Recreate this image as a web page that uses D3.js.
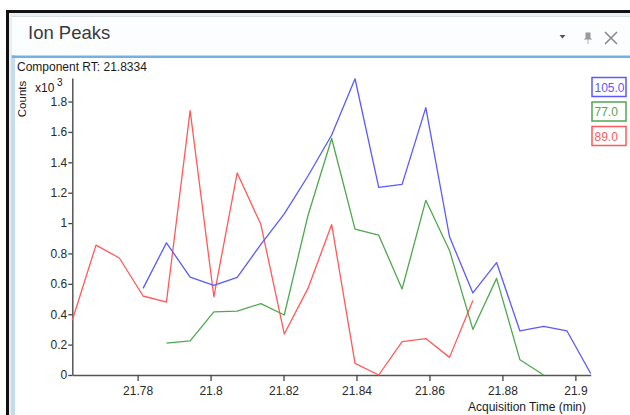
<!DOCTYPE html>
<html>
<head>
<meta charset="utf-8">
<script src="https://cdn.jsdelivr.net/npm/d3@7"></script>
<style>
  html, body { margin: 0; padding: 0; background: #ffffff; }
  svg { display: block; }
  text { font-family: "Liberation Sans", Arial, sans-serif; }
</style>
</head>
<body>
<svg id="chart" width="630" height="415"></svg>
<script>
// ---- data ----
const times = [21.7621, 21.7686, 21.7750, 21.7815, 21.7879, 21.7944, 21.8009, 21.8073,
               21.8138, 21.8202, 21.8267, 21.8332, 21.8396, 21.8461, 21.8525, 21.8590,
               21.8655, 21.8719, 21.8784, 21.8848, 21.8913, 21.8977, 21.9042];
const seriesNames = ["105.0", "77.0", "89.0"];
const seriesColors = ["#5a5aff", "#4fa84f", "#ff5a5a"];
const ion105 = [null, null, null, 0.57, 0.87, 0.645, 0.59, 0.643, 0.86, 1.06, 1.31, 1.58,
                1.95, 1.235, 1.255, 1.76, 0.91, 0.54, 0.74, 0.29, 0.32, 0.29, 0.01];
const ion77  = [null, null, null, null, 0.21, 0.225, 0.415, 0.42, 0.47, 0.395, 1.05, 1.557,
                0.96, 0.92, 0.566, 1.15, 0.82, 0.30, 0.636, 0.10, 0.0, null, null];
const ion89  = [0.36, 0.855, 0.77, 0.52, 0.48, 1.74, 0.515, 1.33, 0.99, 0.27, 0.57, 0.99,
                0.077, 0.0, 0.22, 0.24, 0.116, 0.49, null, null, null, null, null];
const xTicks = [21.78, 21.80, 21.82, 21.84, 21.86, 21.88, 21.90];
const xTickLabels = ["21.78", "21.8", "21.82", "21.84", "21.86", "21.88", "21.9"];
const yTicks = [0, 0.2, 0.4, 0.6, 0.8, 1.0, 1.2, 1.4, 1.6, 1.8];
const yTickLabels = ["0", "0.2", "0.4", "0.6", "0.8", "1", "1.2", "1.4", "1.6", "1.8"];
const allSeries = [ion105, ion77, ion89];

// ---- drawing ----
const svg = d3.select("#chart");

// window frame
svg.append("rect").attr("x", 0).attr("y", 0).attr("width", 630).attr("height", 415).attr("fill", "#ffffff");
svg.append("rect").attr("x", 6).attr("y", 10).attr("width", 624).attr("height", 405).attr("fill", "#111111");
svg.append("rect").attr("x", 9).attr("y", 13).attr("width", 621).attr("height", 402).attr("fill", "#e9eef3");
svg.append("rect").attr("x", 12).attr("y", 17).attr("width", 618).attr("height", 398).attr("fill", "#fcfdfe");
svg.append("line").attr("x1", 12).attr("x2", 630).attr("y1", 16.5).attr("y2", 16.5).attr("stroke", "#d6dee6").attr("stroke-width", 1);
// left light blue band
svg.append("rect").attr("x", 11).attr("y", 55).attr("width", 4).attr("height", 360).attr("fill", "#c4dcf0");
svg.append("rect").attr("x", 15).attr("y", 58).attr("width", 615).attr("height", 357).attr("fill", "#ffffff");
// blue separator
svg.append("rect").attr("x", 12).attr("y", 55.5).attr("width", 618).attr("height", 2.5).attr("fill", "#72b1e6");

// header
svg.append("text").attr("x", 28).attr("y", 39).attr("font-size", 18.5)
  .attr("font-family", "'Open Sans', 'Noto Sans', sans-serif").attr("fill", "#3a3a3a").text("Ion Peaks");
// header icons
svg.append("path").attr("d", "M559.5,35 L565.5,35 L562.5,38.5 Z").attr("fill", "#555");
svg.append("path").attr("d", "M585.5,32.5 L590.5,32.5 L590.5,38 L592.5,39.5 L583.5,39.5 L585.5,38 Z M587.6,39.5 L587.6,44 L588.4,44 L588.4,39.5 Z")
  .attr("fill", "#9a9a9a");
svg.append("path").attr("d", "M605,32 L617,44 M617,32 L605,44").attr("stroke", "#8a8a8a").attr("stroke-width", 1.6).attr("fill", "none");

// chart texts
svg.append("text").attr("x", 17).attr("y", 71).attr("font-size", 12).attr("fill", "#1a1a1a").text("Component RT: 21.8334");
svg.append("text").attr("transform", "translate(26,99) rotate(-90)").attr("text-anchor", "middle")
  .attr("font-size", 11.5).attr("fill", "#1a1a1a").text("Counts");
svg.append("text").attr("x", 35).attr("y", 92).attr("font-size", 12).attr("fill", "#1a1a1a").text("x10");
svg.append("text").attr("x", 57).attr("y", 86).attr("font-size", 10).attr("fill", "#1a1a1a").text("3");

// scales
const x = d3.scaleLinear().domain([times[0], times[times.length - 1]]).range([72.3, 590.7]);
const y = d3.scaleLinear().domain([0, 1.955]).range([375, 78]);

// axes
const xAxis = d3.axisBottom(x).tickValues(xTicks).tickSize(6).tickSizeOuter(0)
  .tickFormat((d, i) => xTickLabels[i]);
const gx = svg.append("g").attr("transform", "translate(0,375)").call(xAxis);
gx.select(".domain").attr("stroke", "#555").attr("stroke-width", 1.5);
gx.selectAll(".tick line").attr("stroke", "#444").attr("stroke-width", 1.3);
gx.selectAll(".tick text").attr("font-size", 12).attr("fill", "#2a2a2a")
  .attr("font-family", "'Liberation Sans', Arial, sans-serif").attr("dy", "0.95em");

const yAxis = d3.axisLeft(y).tickValues(yTicks).tickSize(4).tickSizeOuter(0)
  .tickFormat((d, i) => yTickLabels[i]);
const gy = svg.append("g").attr("transform", "translate(72.3,0)").call(yAxis);
gy.select(".domain").attr("stroke", "#555").attr("stroke-width", 1.5);
gy.selectAll(".tick line").attr("stroke", "#444").attr("stroke-width", 1.3);
gy.selectAll(".tick text").attr("font-size", 12).attr("fill", "#2a2a2a")
  .attr("font-family", "'Liberation Sans', Arial, sans-serif").attr("x", -5);

svg.append("text").attr("x", 586).attr("y", 411).attr("text-anchor", "end").attr("font-size", 12)
  .attr("fill", "#1a1a1a").text("Acquisition Time (min)");

// lines
const line = d3.line().defined(d => d[1] !== null).x(d => x(d[0])).y(d => y(d[1]));
[2, 1, 0].forEach(k => {
  const pts = times.map((t, i) => [t, allSeries[k][i]]);
  svg.append("path").attr("d", line(pts)).attr("fill", "none")
    .attr("stroke", seriesColors[k]).attr("stroke-width", 1.3).attr("stroke-linejoin", "round");
});

// legend
const legendY = [77.5, 102, 126.5];
seriesNames.forEach((name, k) => {
  svg.append("rect").attr("x", 592).attr("y", legendY[k]).attr("width", 34).attr("height", 19)
    .attr("fill", "#ffffff").attr("stroke", seriesColors[k]).attr("stroke-width", 1.5);
  svg.append("text").attr("x", 594.5).attr("y", legendY[k] + 14).attr("font-size", 12)
    .attr("fill", seriesColors[k]).text(name);
});
</script>
</body>
</html>
